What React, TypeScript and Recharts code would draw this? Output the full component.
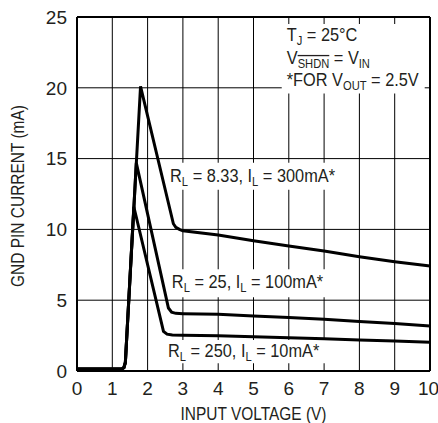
import React from 'react';
import {
  LineChart,
  Line,
  XAxis,
  YAxis,
  CartesianGrid,
  ReferenceLine,
  ReferenceArea
} from 'recharts';

// input voltage (V) / gnd pin current (mA)
const curve300mA = [
  { v: 0, i: 0.15 },
  { v: 1.27, i: 0.15 },
  { v: 1.33, i: 0.25 },
  { v: 1.37, i: 0.6 },
  { v: 1.8, i: 20.1 },
  { v: 2.73, i: 10.4 },
  { v: 2.8, i: 10.15 },
  { v: 2.9, i: 10.0 },
  { v: 3, i: 9.9 },
  { v: 4, i: 9.6 },
  { v: 5, i: 9.2 },
  { v: 6, i: 8.83 },
  { v: 7, i: 8.47 },
  { v: 8, i: 8.07 },
  { v: 9, i: 7.72 },
  { v: 10, i: 7.42 }
];

const curve100mA = [
  { v: 0, i: 0.15 },
  { v: 1.27, i: 0.15 },
  { v: 1.33, i: 0.25 },
  { v: 1.37, i: 0.6 },
  { v: 1.68, i: 14.7 },
  { v: 2.59, i: 4.45 },
  { v: 2.68, i: 4.15 },
  { v: 2.8, i: 4.07 },
  { v: 3, i: 4.05 },
  { v: 4, i: 4.0 },
  { v: 5, i: 3.88 },
  { v: 6, i: 3.78 },
  { v: 7, i: 3.65 },
  { v: 8, i: 3.5 },
  { v: 9, i: 3.36 },
  { v: 10, i: 3.18 }
];

const curve10mA = [
  { v: 0, i: 0.15 },
  { v: 1.27, i: 0.15 },
  { v: 1.33, i: 0.25 },
  { v: 1.37, i: 0.6 },
  { v: 1.61, i: 11.6 },
  { v: 2.45, i: 2.8 },
  { v: 2.55, i: 2.6 },
  { v: 2.7, i: 2.54 },
  { v: 3, i: 2.53 },
  { v: 4, i: 2.49 },
  { v: 5, i: 2.42 },
  { v: 6, i: 2.35 },
  { v: 7, i: 2.28 },
  { v: 8, i: 2.19 },
  { v: 9, i: 2.12 },
  { v: 10, i: 2.03 }
];

const xTicks = [0, 1, 2, 3, 4, 5, 6, 7, 8, 9, 10];
const yTicks = [0, 5, 10, 15, 20, 25];

// _{x} = subscript, _{~x} = subscript with overline
const conditionLines = ['T_{J} = 25°C', 'V_{~SHDN} = V_{IN}', '*FOR V_{OUT} = 2.5V'];
const label300 = 'R_{L} = 8.33, I_{L} = 300mA*';
const label100 = 'R_{L} = 25, I_{L} = 100mA*';
const label10 = 'R_{L} = 250, I_{L} = 10mA*';

const FONT = '"Liberation Sans", Arial, sans-serif';
const INK = '#231f20';
const SQUEEZE = 0.86; // the datasheet face is a narrow one
const SUB_DY = 4;

function rich(s: string) {
  const parts = s.split(/_\{([^}]*)\}/);
  const out: React.ReactNode[] = [];
  let low = false;
  parts.forEach((p, k) => {
    if (p === '') return;
    const isSub = k % 2 === 1;
    if (isSub) {
      const over = p.startsWith('~');
      out.push(
        <tspan key={k} dy={low ? 0 : SUB_DY} fontSize={13} textDecoration={over ? 'overline' : undefined}>
          {over ? p.slice(1) : p}
        </tspan>
      );
      low = true;
    } else {
      out.push(
        <tspan key={k} dy={low ? -SUB_DY : 0}>
          {p}
        </tspan>
      );
      low = false;
    }
  });
  return out;
}

// condensed text: squeeze horizontally around its anchor point
const Narrow = ({ x, y, angle = 0, size = 19, anchor = 'start', children }: any) => (
  <g transform={`translate(${x},${y}) rotate(${angle}) scale(${SQUEEZE},1)`}>
    <text x={0} y={0} fontFamily={FONT} fontSize={size} fill={INK} textAnchor={anchor}>
      {children}
    </text>
  </g>
);

// label content for a white note box: text placed relative to the box corner
const note = (lines: string[], dx: number, dy: number, step = 22.7) =>
  (props: any) => {
    const { x, y } = props.viewBox;
    return (
      <g>
        {lines.map((l, k) => (
          <Narrow key={k} x={x + dx} y={y + dy + k * step}>
            {rich(l)}
          </Narrow>
        ))}
      </g>
    );
  };

const xTitle = (props: any) => {
  const { x, y, width, height } = props.viewBox;
  return (
    <Narrow x={x + width / 2} y={y + height - 3} size={18} anchor="middle">
      INPUT VOLTAGE (V)
    </Narrow>
  );
};

const yTitle = (props: any) => {
  const { y, height } = props.viewBox;
  return (
    <Narrow x={24} y={y + height / 2 + 2} angle={-90} size={18} anchor="middle">
      GND PIN CURRENT (mA)
    </Narrow>
  );
};

export default function App() {
  return (
    <div style={{ position: 'absolute', left: 0, top: 0, background: '#fff' }}>
      <LineChart
        width={438}
        height={423}
        margin={{ top: 17, right: 8, bottom: 0, left: 0 }}
        style={{ fontFamily: FONT }}
      >
        <CartesianGrid stroke="#000" strokeWidth={1} />
        <XAxis
          dataKey="v"
          type="number"
          domain={[0, 10]}
          ticks={xTicks}
          height={52}
          tickLine={false}
          tickSize={0}
          tickMargin={11}
          axisLine={{ stroke: '#000', strokeWidth: 2 }}
          tick={{ fontSize: 19, fill: INK }}
          label={{ content: xTitle }}
        />
        <YAxis
          type="number"
          domain={[0, 25]}
          ticks={yTicks}
          width={77}
          tickLine={false}
          tickSize={0}
          tickMargin={10}
          axisLine={{ stroke: '#000', strokeWidth: 2 }}
          tick={{ fontSize: 19, fill: INK }}
          label={{ content: yTitle }}
        />
        <ReferenceLine x={10} stroke="#000" strokeWidth={2} />
        <ReferenceLine y={25} stroke="#000" strokeWidth={2} />

        <ReferenceArea
          x1={5.8} x2={9.85} y1={19.6} y2={24.5}
          fill="#fff" fillOpacity={1} stroke="none"
          label={{ content: note(conditionLines, 5, 17) }}
        />
        <ReferenceArea
          x1={2.58} x2={7.6} y1={12.8} y2={14.7}
          fill="#fff" fillOpacity={1} stroke="none"
          label={{ content: note([label300], 2, 19) }}
        />
        <ReferenceArea
          x1={2.63} x2={7.22} y1={5.2} y2={7.18}
          fill="#fff" fillOpacity={1} stroke="none"
          label={{ content: note([label100], 2, 19) }}
        />
        <ReferenceArea
          x1={2.52} x2={7.17} y1={0.54} y2={2.19}
          fill="#fff" fillOpacity={1} stroke="none"
          label={{ content: note([label10], 2, 17) }}
        />

        <Line data={curve300mA} dataKey="i" type="linear" stroke="#000" strokeWidth={3} dot={false} isAnimationActive={false} />
        <Line data={curve100mA} dataKey="i" type="linear" stroke="#000" strokeWidth={3} dot={false} isAnimationActive={false} />
        <Line data={curve10mA} dataKey="i" type="linear" stroke="#000" strokeWidth={3} dot={false} isAnimationActive={false} />
      </LineChart>
    </div>
  );
}
